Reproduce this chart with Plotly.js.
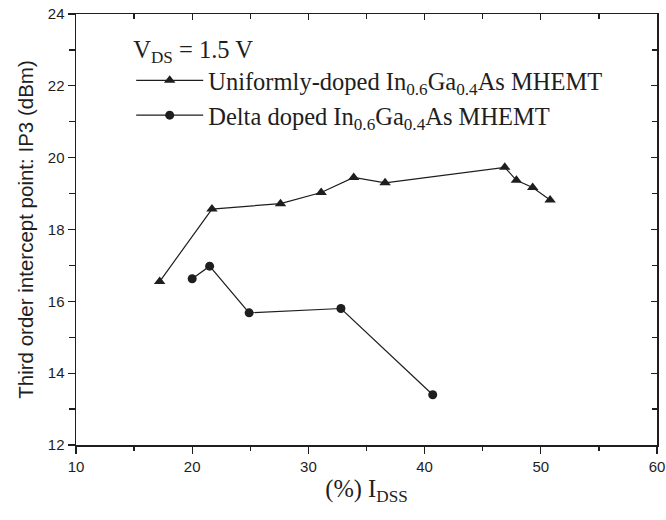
<!DOCTYPE html>
<html>
<head>
<meta charset="utf-8">
<script src="https://cdn.plot.ly/plotly-3.0.1.min.js"></script>
<style>html,body{margin:0;padding:0;background:#fff;}#chart{width:666px;height:520px;}</style>
</head>
<body>
<div id="chart"></div>
<script>
// Series data
const uniformName = 'Uniformly-doped In<sub>0.6</sub>Ga<sub>0.4</sub>As MHEMT';
const uniformX = [17.2, 21.7, 27.6, 31.1, 33.9, 36.6, 46.9, 47.9, 49.3, 50.8];
const uniformY = [16.55, 18.57, 18.72, 19.03, 19.45, 19.3, 19.73, 19.37, 19.17, 18.82];

const deltaName = 'Delta doped In<sub>0.6</sub>Ga<sub>0.4</sub>As MHEMT';
const deltaX = [20.0, 21.5, 24.9, 32.8, 40.7];
const deltaY = [16.63, 16.98, 15.68, 15.8, 13.4];

const legendTitle = 'V<sub>DS</sub> = 1.5 V';
const xTitle = '(%) I<sub>DSS</sub>';
const yTitle = 'Third order intercept point: IP3 (dBm)';
const xRange = [10, 60];
const yRange = [12, 24];

const ink = '#1e1e1e';
const serif = 'Liberation Serif, Times New Roman, serif';
const sans = 'Liberation Sans, Arial, sans-serif';

const traces = [
  {
    x: uniformX, y: uniformY, name: uniformName, type: 'scatter', mode: 'lines+markers',
    line: {color: ink, width: 1.2},
    marker: {symbol: 'triangle-up', size: 10, color: ink}
  },
  {
    x: deltaX, y: deltaY, name: deltaName, type: 'scatter', mode: 'lines+markers',
    line: {color: ink, width: 1.2},
    marker: {symbol: 'circle', size: 9, color: ink}
  },
  {x: [], y: [], xaxis: 'x2', yaxis: 'y2', showlegend: false, hoverinfo: 'skip'}
];

const baseAxis = {
  showline: true, linecolor: ink, linewidth: 1.5, showgrid: false, zeroline: false,
  tickcolor: ink, tickwidth: 1.3, tickfont: {family: sans, size: 15, color: ink}
};

const layout = {
  width: 666, height: 520,
  margin: {l: 76, r: 9, t: 14, b: 75},
  paper_bgcolor: '#fff', plot_bgcolor: '#fff',
  showlegend: true,
  legend: {
    x: 0.095, y: 0.972, xanchor: 'left', yanchor: 'top',
    bgcolor: 'rgba(0,0,0,0)', borderwidth: 0,
    font: {family: serif, size: 24.5, color: ink},
    title: {text: legendTitle, font: {family: serif, size: 24.5, color: ink}},
    itemwidth: 67
  },
  xaxis: Object.assign({}, baseAxis, {
    range: xRange, tick0: 10, dtick: 10, ticks: 'outside', ticklen: 7,
    minor: {dtick: 5, ticks: 'outside', ticklen: 4, tickwidth: 1.3, tickcolor: ink},
    title: {text: xTitle, font: {family: serif, size: 24.5, color: ink}, standoff: 6}
  }),
  yaxis: Object.assign({}, baseAxis, {
    range: yRange, tick0: 12, dtick: 2, ticks: 'outside', ticklen: 7,
    minor: {dtick: 1, ticks: 'outside', ticklen: 6, tickwidth: 1.3, tickcolor: ink},
    title: {text: yTitle, font: {family: sans, size: 20.5, color: ink}, standoff: 8}
  }),
  xaxis2: Object.assign({}, baseAxis, {
    range: xRange, overlaying: 'x', side: 'top', anchor: 'y', tick0: 10, dtick: 10,
    ticks: 'inside', ticklen: 6, showticklabels: false,
    minor: {dtick: 5, ticks: 'inside', ticklen: 5, tickwidth: 1.3, tickcolor: ink}
  }),
  yaxis2: Object.assign({}, baseAxis, {
    range: yRange, overlaying: 'y', side: 'right', anchor: 'x', tick0: 12, dtick: 2,
    ticks: 'inside', ticklen: 6, showticklabels: false,
    minor: {dtick: 1, ticks: 'inside', ticklen: 5, tickwidth: 1.3, tickcolor: ink}
  })
};

Plotly.newPlot('chart', traces, layout, {staticPlot: true, displayModeBar: false});
</script>
</body>
</html>
